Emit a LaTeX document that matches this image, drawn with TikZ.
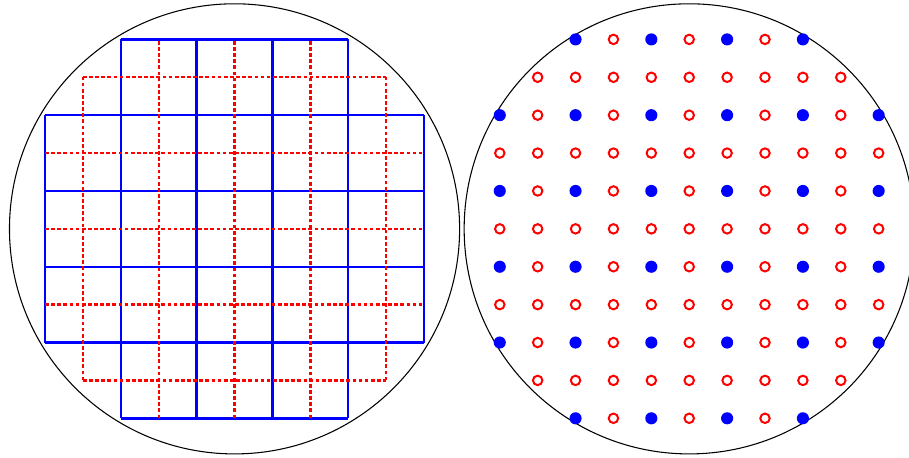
\documentclass[tikz,border=0pt]{standalone}
\usepackage{xcolor}
\usepackage{tikz}
\usetikzlibrary{calc}

\begin{document}
\begin{tikzpicture}[x=0.5cm, y=0.5cm,
    wafer/.style={draw=black, line width=0.4pt},
    bluegrid/.style={draw=blue, line width=0.9pt},
    redgrid/.style={draw=red, line width=0.9pt, dash pattern=on 1.4pt off 0.9pt},
    fulldot/.style={fill=blue},
    opendot/.style={draw=red, line width=0.75pt}]
  \useasboundingbox (-6.19,-6.03) rectangle (17.80,6.04);
  \coordinate (left) at (0,0);
  \coordinate (right) at (12,0);

  % left wafer with two die grids
  \draw[wafer] (left) circle (5.94);
  \foreach \v in {-3,-1,1,3} {
    \draw[bluegrid] ($(left)+(\v,-5)$) -- ($(left)+(\v,5)$);
    \draw[bluegrid] ($(left)+(-5,\v)$) -- ($(left)+(5,\v)$);
  }
  \foreach \v in {-5,5} {
    \draw[bluegrid] ($(left)+(\v,-3)$) -- ($(left)+(\v,3)$);
    \draw[bluegrid] ($(left)+(-3,\v)$) -- ($(left)+(3,\v)$);
  }
  \foreach \v in {-2,0,2} {
    \draw[redgrid] ($(left)+(\v,-5)$) -- ($(left)+(\v,5)$);
    \draw[redgrid] ($(left)+(-5,\v)$) -- ($(left)+(5,\v)$);
  }
  \foreach \v in {-4,4} {
    \draw[redgrid] ($(left)+(\v,-4)$) -- ($(left)+(\v,4)$);
    \draw[redgrid] ($(left)+(-4,\v)$) -- ($(left)+(4,\v)$);
  }

  % right wafer with site dots
  \draw[wafer] (right) circle (5.94);
  \foreach \i in {-5,...,5} {
    \foreach \j in {-5,...,5} {
      \pgfmathtruncatemacro\dd{\i*\i+\j*\j}
      \pgfmathtruncatemacro\odd{mod(abs(\i),2)*mod(abs(\j),2)}
      \ifnum\dd<36
        \ifnum\odd=1
          \fill[fulldot] ($(right)+(\i,\j)$) circle (0.16);
        \else
          \draw[opendot] ($(right)+(\i,\j)$) circle (0.125);
        \fi
      \fi
    }
  }
\end{tikzpicture}
\end{document}
